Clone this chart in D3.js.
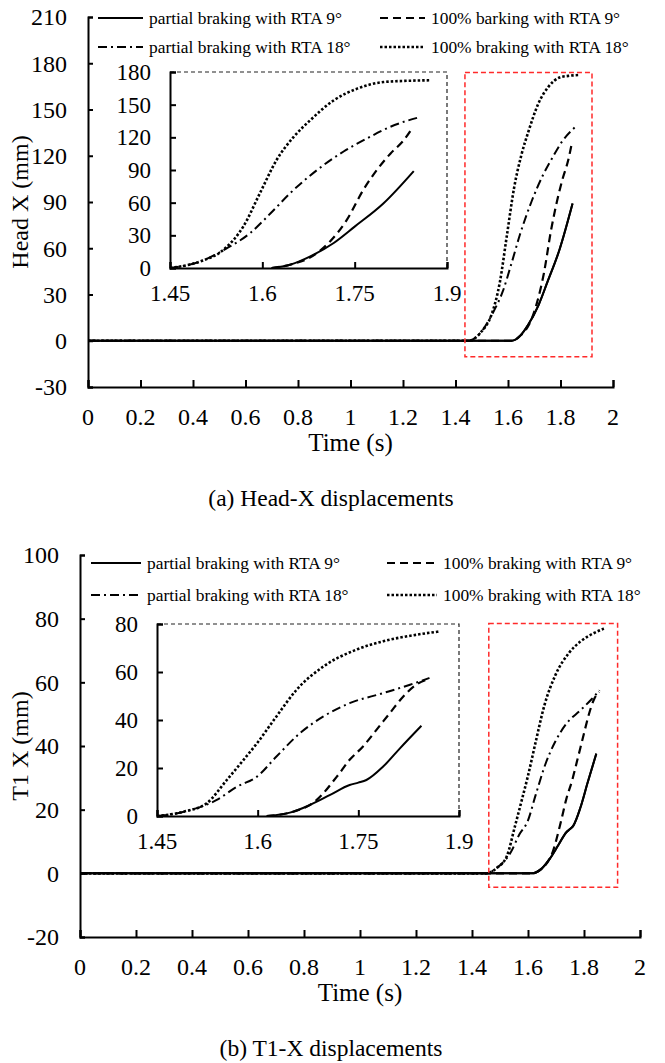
<!DOCTYPE html>
<meta charset="utf-8">
<title>Head-X and T1-X displacements</title>
<script src="https://d3js.org/d3.v7.min.js"></script>
<style>
  body { margin: 0; background: #fff; }
  svg text { font-family: "Liberation Serif", "Times New Roman", serif; fill: #000; }
</style>
<body>
<div id="chart"></div>
<script>
// ---- data ----
// (a) Head-X displacement (mm) vs time (s)
const headSolidT   = [0, 1.615, 1.645, 1.678, 1.716, 1.75, 1.797, 1.846];
const headSolidV   = [0, 0, 3, 10.7, 23, 38, 59.5, 89];
const headDashT    = [0, 1.615, 1.645, 1.689, 1.71, 1.737, 1.764, 1.786, 1.808, 1.83, 1.843];
const headDashV    = [0, 0, 3, 13.7, 24.4, 44, 71.7, 90, 105, 117.5, 128];
const headDashDotT = [0, 1.45, 1.499, 1.542, 1.58, 1.613, 1.645, 1.689, 1.732, 1.77, 1.808, 1.857];
const headDashDotV = [0, 0, 6, 18, 32, 50, 68.6, 90, 107, 119, 129.7, 138.8];
const headDotT     = [0, 1.45, 1.499, 1.537, 1.569, 1.596, 1.623, 1.651, 1.678, 1.716, 1.754, 1.797, 1.83, 1.873];
const headDotV     = [0, 0, 6, 16.8, 38, 68.6, 99, 120.5, 135.8, 154, 164.7, 170.8, 171.8, 172.4];

// (b) T1-X displacement (mm) vs time (s)
const t1SolidT   = [0, 1.6135, 1.648, 1.678, 1.708, 1.737, 1.75, 1.762, 1.787, 1.812, 1.844];
const t1SolidV   = [0, 0, 1.4, 4.6, 8.8, 12.9, 13.9, 15, 20.6, 28.2, 37.6];
const t1DashT    = [0, 1.6135, 1.648, 1.688, 1.718, 1.737, 1.757, 1.777, 1.797, 1.817, 1.836, 1.854];
const t1DashV    = [0, 0, 1.4, 6.7, 16.4, 23.4, 29, 35.9, 42.9, 49.8, 54.7, 57];
const t1DashDotT = [0, 1.45, 1.49, 1.539, 1.569, 1.599, 1.628, 1.663, 1.698, 1.737, 1.787, 1.827, 1.856];
const t1DashDotV = [0, 0, 1.8, 6.7, 12.2, 16.4, 24.8, 34.5, 41.5, 47, 51.2, 54.7, 57.5];
const t1DotT     = [0, 1.45, 1.49, 1.524, 1.554, 1.579, 1.599, 1.628, 1.658, 1.698, 1.747, 1.787, 1.836, 1.871];
const t1DotV     = [0, 0, 1.8, 5.3, 15, 23.4, 30.3, 41.5, 52.6, 62.3, 69.3, 72.8, 75.5, 76.9];

// axis ticks
const mainXTicks  = [0, 0.2, 0.4, 0.6, 0.8, 1, 1.2, 1.4, 1.6, 1.8, 2];
const insetXTicks = [1.45, 1.6, 1.75, 1.9];
const headYTicks  = [-30, 0, 30, 60, 90, 120, 150, 180, 210];
const headInsetYTicks = [0, 30, 60, 90, 120, 150, 180];
const t1YTicks    = [-20, 0, 20, 40, 60, 80, 100];
const t1InsetYTicks = [0, 20, 40, 60, 80];

// zoomed region marked by the red box: [t0, t1, v0, v1]
const headZoomBox = [1.436, 1.92, -10.4, 174];
const t1ZoomBox   = [1.46, 1.92, -4.4, 78.5];

const headLegend = ["partial braking with RTA 9°", "100% barking with RTA 9°",
                    "partial braking with RTA 18°", "100% braking with RTA 18°"];
const t1Legend   = ["partial braking with RTA 9°", "100% braking with RTA 9°",
                    "partial braking with RTA 18°", "100% braking with RTA 18°"];

// line styles: solid, dashed, dash-dot, dotted
const styles = [
  {dash: null,      width: 2},
  {dash: "8 5",     width: 2.2},
  {dash: "9 4 2 4", width: 2},
  {dash: "2.5 2",   width: 2.6}
];

const FONT = "Liberation Serif, Times New Roman, serif";

const svg = d3.select("#chart").append("svg")
    .attr("width", 665).attr("height", 1063)
    .attr("font-family", FONT);

function toPoints(t, v) { return t.map((d, i) => [d, v[i]]); }

function styleAxis(a) {
  a.attr("font-family", FONT);
  a.select(".domain").attr("stroke-width", 2).attr("stroke", "#000");
  a.selectAll(".tick line").attr("stroke-width", 2).attr("stroke", "#000");
}

function drawPanel(p) {
  const g = svg.append("g");
  const x = d3.scaleLinear().domain([0, 2]).range(p.xRange);
  const y = d3.scaleLinear().domain(p.yDomain).range(p.yRange);
  const x0 = p.xRange[0], yb = p.yRange[0];

  // series on main plot
  const line = d3.line().x(d => x(d[0])).y(d => y(d[1])).curve(d3.curveMonotoneX);
  p.series.forEach((s, i) => {
    g.append("path").datum(toPoints(s[0], s[1]))
      .attr("d", line).attr("fill", "none").attr("stroke", "#000")
      .attr("stroke-width", styles[i].width).attr("stroke-dasharray", styles[i].dash);
  });
  // solid drawn again on top so the zero baseline reads as solid
  g.append("path").datum(toPoints(p.series[0][0], p.series[0][1]))
    .attr("d", line).attr("fill", "none").attr("stroke", "#000").attr("stroke-width", 2);

  // main axes
  styleAxis(g.append("g").attr("transform", `translate(${x0},0)`)
    .call(d3.axisRight(y).tickValues(p.yTicks).tickSize(5).tickFormat("")));
  styleAxis(g.append("g").attr("transform", `translate(0,${yb})`)
    .call(d3.axisTop(x).tickValues(mainXTicks).tickSize(7).tickFormat("")));
  g.selectAll(".ylab").data(p.yTicks).join("text")
    .attr("x", x0 - 21).attr("y", d => y(d)).attr("dy", "0.35em")
    .attr("text-anchor", "end").attr("font-size", 24).text(d => d);
  g.selectAll(".xlab").data(mainXTicks).join("text")
    .attr("x", d => x(d)).attr("y", yb + 30).attr("dy", "0.35em")
    .attr("text-anchor", "middle").attr("font-size", 24).text(d => d);

  // red box around the zoomed region
  const b = p.zoomBox;
  g.append("rect")
    .attr("x", x(b[0])).attr("y", y(b[3]))
    .attr("width", x(b[1]) - x(b[0])).attr("height", y(b[2]) - y(b[3]))
    .attr("fill", "none").attr("stroke", "#ff2a2a").attr("stroke-width", 1.5)
    .attr("stroke-dasharray", "5 3");

  // inset
  const ix = d3.scaleLinear().domain([1.45, 1.9]).range(p.insetX);
  const iy = d3.scaleLinear().domain(p.insetYDomain).range(p.insetY);
  const ig = g.append("g");
  ig.append("path")
    .attr("d", `M${p.insetX[0]},${p.insetY[1]}H${p.insetX[1]}V${p.insetY[0]}`)
    .attr("fill", "none").attr("stroke", "#222").attr("stroke-width", 1.2)
    .attr("stroke-dasharray", "4 3");
  const iline = d3.line().x(d => ix(d[0])).y(d => iy(d[1])).curve(d3.curveMonotoneX);
  p.series.forEach((s, i) => {
    const pts = toPoints(s[0], s[1]).filter(d => d[0] >= 1.45);
    ig.append("path").datum(pts)
      .attr("d", iline).attr("fill", "none").attr("stroke", "#000")
      .attr("stroke-width", styles[i].width).attr("stroke-dasharray", styles[i].dash);
  });
  styleAxis(ig.append("g").attr("transform", `translate(${p.insetX[0]},0)`)
    .call(d3.axisRight(iy).tickValues(p.insetYTicks).tickSize(6).tickFormat("")));
  styleAxis(ig.append("g").attr("transform", `translate(0,${p.insetY[0]})`)
    .call(d3.axisTop(ix).tickValues(insetXTicks).tickSize(6).tickFormat("")));
  ig.selectAll(".iylab").data(p.insetYTicks).join("text")
    .attr("x", p.insetX[0] - 19).attr("y", d => iy(d)).attr("dy", "0.35em")
    .attr("text-anchor", "end").attr("font-size", 23).text(d => d);
  ig.selectAll(".ixlab").data(insetXTicks).join("text")
    .attr("x", d => ix(d)).attr("y", p.insetY[0] + 25).attr("dy", "0.35em")
    .attr("text-anchor", "middle").attr("font-size", 23).text(d => d);

  // legend (2 x 2)
  const lg = g.append("g");
  p.legend.forEach((name, i) => {
    const col = i % 2, row = Math.floor(i / 2);
    const lx = p.legendCols[col], ly = p.legendRows[row];
    lg.append("line").attr("x1", lx).attr("x2", lx + p.legendSample)
      .attr("y1", ly).attr("y2", ly).attr("stroke", "#000")
      .attr("stroke-width", styles[i].width)
      .attr("stroke-dasharray", styles[i].dash);
    lg.append("text").attr("x", lx + p.legendSample + 6).attr("y", ly).attr("dy", "0.35em")
      .attr("font-size", 17.4).text(name);
  });

  // titles
  g.append("text")
    .attr("transform", `translate(20,${(p.yRange[0] + p.yRange[1]) / 2}) rotate(-90)`)
    .attr("dy", "0.35em").attr("text-anchor", "middle").attr("font-size", 24)
    .text(p.yTitle);
  g.append("text").attr("x", (p.xRange[0] + p.xRange[1]) / 2).attr("y", yb + 55)
    .attr("dy", "0.35em").attr("text-anchor", "middle").attr("font-size", 25)
    .text("Time (s)");
  g.append("text").attr("x", 331).attr("y", yb + 111)
    .attr("dy", "0.35em").attr("text-anchor", "middle").attr("font-size", 23.5)
    .text(p.caption);
}

drawPanel({
  xRange: [88, 613], yDomain: [-30, 210], yRange: [387, 17], yTicks: headYTicks,
  insetX: [170, 447], insetYDomain: [0, 180], insetY: [268, 72], insetYTicks: headInsetYTicks,
  series: [[headSolidT, headSolidV], [headDashT, headDashV],
           [headDashDotT, headDashDotV], [headDotT, headDotV]],
  zoomBox: headZoomBox,
  legend: headLegend, legendCols: [98, 380], legendRows: [18, 47], legendSample: 45,
  yTitle: "Head X (mm)", caption: "(a) Head-X displacements"
});

drawPanel({
  xRange: [80, 640], yDomain: [-20, 100], yRange: [937, 555], yTicks: t1YTicks,
  insetX: [157, 459], insetYDomain: [0, 80], insetY: [816, 624], insetYTicks: t1InsetYTicks,
  series: [[t1SolidT, t1SolidV], [t1DashT, t1DashV],
           [t1DashDotT, t1DashDotV], [t1DotT, t1DotV]],
  zoomBox: t1ZoomBox,
  legend: t1Legend, legendCols: [91, 387], legendRows: [563, 595], legendSample: 50,
  yTitle: "T1 X (mm)", caption: "(b) T1-X displacements"
});
</script>
</body>
